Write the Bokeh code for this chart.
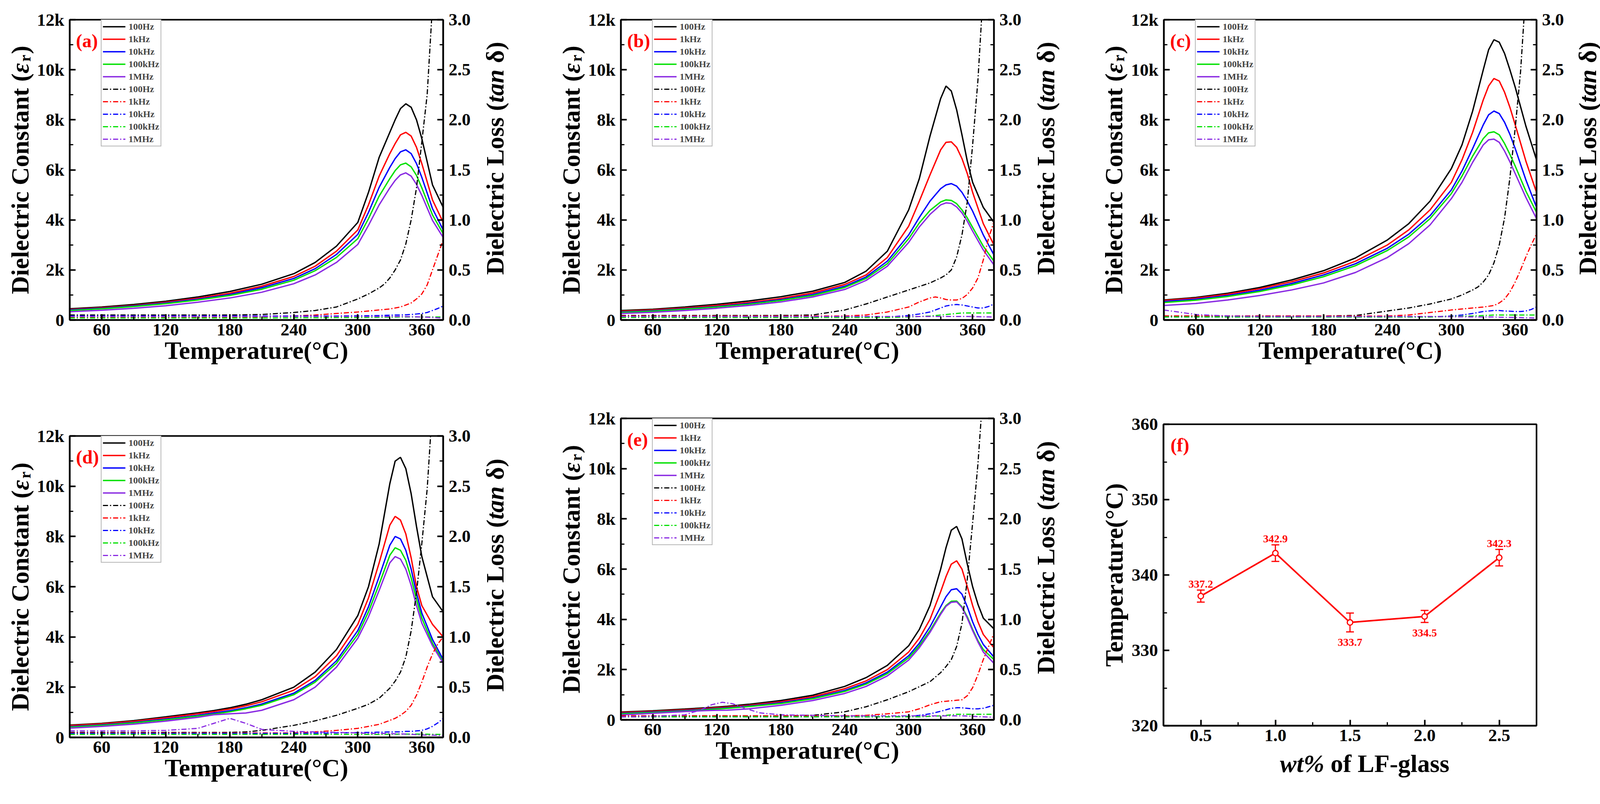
import math
import numpy as np
from bokeh.plotting import figure
from bokeh.models import (Range1d, LinearAxis, FixedTicker, Legend, LegendItem,
                          Label, Whisker, TeeHead, ColumnDataSource)
from bokeh.layouts import row, column
from bokeh.embed import file_html
from bokeh.resources import INLINE

NAN = float("nan")

# ---------------- data ----------------
FREQS = ["100Hz", "1kHz", "10kHz", "100kHz", "1MHz"]
COLORS = ["#000000", "#FF0000", "#0000FF", "#00E000", "#8A2BE2"]
PANEL_TAGS = ["(a)", "(b)", "(c)", "(d)", "(e)", "(f)"]

# dielectric constant in units of 1k, loss tangent as read
A_T = [30, 60, 90, 120, 150, 180, 210, 240, 260, 280, 300, 310, 320, 330, 335, 340, 345, 350, 355, 360, 370, 380]
A_EPS_100HZ = [0.45, 0.52, 0.62, 0.75, 0.92, 1.14, 1.43, 1.85, 2.30, 2.95, 3.90, 5.10, 6.50, 7.50, 8.00, 8.45, 8.64, 8.50, 8.00, 7.25, 5.40, 4.50]
A_EPS_1KHZ = [0.42, 0.49, 0.58, 0.71, 0.87, 1.07, 1.35, 1.74, 2.15, 2.75, 3.60, 4.60, 5.75, 6.65, 7.05, 7.40, 7.50, 7.35, 6.90, 6.25, 4.80, 3.90]
A_EPS_10KHZ = [0.40, 0.47, 0.56, 0.68, 0.83, 1.02, 1.29, 1.66, 2.05, 2.62, 3.42, 4.30, 5.30, 6.10, 6.45, 6.72, 6.80, 6.65, 6.25, 5.70, 4.45, 3.60]
A_EPS_100KHZ = [0.38, 0.45, 0.54, 0.65, 0.80, 0.98, 1.23, 1.59, 1.97, 2.50, 3.25, 4.05, 4.95, 5.65, 5.97, 6.20, 6.27, 6.12, 5.78, 5.28, 4.20, 3.45]
A_EPS_1MHZ = [0.33, 0.39, 0.47, 0.57, 0.71, 0.88, 1.11, 1.45, 1.80, 2.30, 3.02, 3.78, 4.60, 5.28, 5.58, 5.80, 5.88, 5.75, 5.42, 4.98, 3.98, 3.30]
A_TL = [30, 60, 90, 120, 150, 180, 210, 240, 260, 280, 300, 310, 320, 325, 330, 335, 340, 345, 350, 355, 360, 365, 370, 375, 380]
A_TAN_100HZ = [0.05, 0.05, 0.05, 0.05, 0.05, 0.05, 0.055, 0.075, 0.095, 0.13, 0.21, 0.26, 0.32, 0.36, 0.42, 0.50, 0.60, 0.76, 1.00, 1.32, 1.78, 2.25, 3.15, NAN, NAN]
A_TAN_1KHZ = [0.025, 0.025, 0.025, 0.025, 0.025, 0.028, 0.032, 0.04, 0.05, 0.065, 0.08, 0.09, 0.10, 0.105, 0.11, 0.12, 0.13, 0.15, 0.17, 0.21, 0.26, 0.35, 0.50, 0.65, 0.80]
A_TAN_10KHZ = [0.04, 0.04, 0.04, 0.04, 0.04, 0.04, 0.04, 0.04, 0.04, 0.04, 0.042, 0.043, 0.045, 0.047, 0.048, 0.05, 0.05, 0.052, 0.055, 0.06, 0.065, 0.075, 0.095, 0.115, 0.14]
A_TAN_100KHZ = [0.02, 0.02, 0.02, 0.02, 0.02, 0.02, 0.02, 0.022, 0.022, 0.024, 0.025, 0.026, 0.027, 0.028, 0.028, 0.029, 0.03, 0.03, 0.03, 0.03, 0.03, 0.03, 0.03, 0.03, 0.03]
A_TAN_1MHZ = [0.035, 0.035, 0.035, 0.035, 0.035, 0.035, 0.035, 0.035, 0.035, 0.035, 0.035, 0.035, 0.035, 0.035, 0.035, 0.035, 0.035, 0.034, 0.033, 0.032, 0.03, 0.028, 0.025, 0.022, 0.02]

B_T = [30, 60, 90, 120, 150, 180, 210, 240, 260, 280, 300, 310, 320, 330, 335, 340, 345, 350, 355, 360, 370, 380]
B_EPS_100HZ = [0.38, 0.43, 0.52, 0.63, 0.76, 0.93, 1.15, 1.50, 1.95, 2.75, 4.40, 5.65, 7.35, 8.85, 9.35, 9.15, 8.40, 7.40, 6.35, 5.50, 4.50, 3.90]
B_EPS_1KHZ = [0.35, 0.40, 0.48, 0.58, 0.70, 0.86, 1.08, 1.42, 1.80, 2.50, 3.75, 4.75, 5.80, 6.80, 7.10, 7.12, 6.90, 6.45, 5.85, 5.10, 3.85, 3.00]
B_EPS_10KHZ = [0.32, 0.37, 0.45, 0.54, 0.66, 0.81, 1.02, 1.35, 1.72, 2.35, 3.40, 4.10, 4.75, 5.25, 5.40, 5.45, 5.35, 5.10, 4.75, 4.35, 3.40, 2.60]
B_EPS_100KHZ = [0.30, 0.35, 0.43, 0.52, 0.63, 0.78, 0.98, 1.30, 1.66, 2.25, 3.25, 3.88, 4.38, 4.72, 4.80, 4.78, 4.65, 4.40, 4.08, 3.70, 2.95, 2.35]
B_EPS_1MHZ = [0.26, 0.31, 0.38, 0.47, 0.58, 0.72, 0.92, 1.22, 1.58, 2.15, 3.10, 3.72, 4.22, 4.60, 4.68, 4.66, 4.52, 4.28, 3.95, 3.55, 2.80, 2.20]
B_TL = [30, 60, 90, 120, 150, 180, 210, 240, 260, 280, 300, 310, 320, 325, 330, 335, 340, 345, 350, 355, 360, 365, 370, 375, 380]
B_TAN_100HZ = [0.045, 0.045, 0.045, 0.045, 0.045, 0.045, 0.05, 0.10, 0.16, 0.23, 0.30, 0.335, 0.37, 0.395, 0.42, 0.45, 0.50, 0.63, 0.85, 1.18, 1.75, 2.40, 3.30, NAN, NAN]
B_TAN_1KHZ = [0.04, 0.04, 0.04, 0.04, 0.04, 0.04, 0.04, 0.04, 0.05, 0.08, 0.13, 0.18, 0.22, 0.23, 0.22, 0.205, 0.20, 0.20, 0.215, 0.255, 0.32, 0.42, 0.60, 0.82, 0.98]
B_TAN_10KHZ = [0.03, 0.03, 0.03, 0.03, 0.03, 0.03, 0.03, 0.03, 0.03, 0.03, 0.045, 0.06, 0.08, 0.10, 0.12, 0.14, 0.15, 0.155, 0.15, 0.14, 0.13, 0.12, 0.12, 0.135, 0.16]
B_TAN_100KHZ = [0.025, 0.025, 0.025, 0.025, 0.025, 0.025, 0.025, 0.025, 0.025, 0.025, 0.03, 0.035, 0.04, 0.045, 0.05, 0.055, 0.06, 0.065, 0.07, 0.07, 0.07, 0.07, 0.07, 0.07, 0.07]
B_TAN_1MHZ = [0.035, 0.035, 0.035, 0.035, 0.035, 0.035, 0.035, 0.035, 0.035, 0.035, 0.035, 0.035, 0.035, 0.035, 0.035, 0.035, 0.035, 0.035, 0.035, 0.035, 0.034, 0.033, 0.032, 0.031, 0.03]

C_T = [30, 60, 90, 120, 150, 180, 210, 240, 260, 280, 300, 310, 320, 330, 335, 340, 345, 350, 355, 360, 370, 380]
C_EPS_100HZ = [0.80, 0.90, 1.07, 1.30, 1.60, 1.97, 2.48, 3.20, 3.85, 4.75, 6.05, 7.00, 8.35, 10.0, 10.8, 11.2, 11.1, 10.65, 10.0, 9.30, 7.75, 6.40]
C_EPS_1KHZ = [0.78, 0.87, 1.03, 1.25, 1.53, 1.88, 2.35, 3.00, 3.60, 4.40, 5.50, 6.40, 7.50, 8.80, 9.35, 9.65, 9.55, 9.10, 8.50, 7.80, 6.35, 5.10]
C_EPS_10KHZ = [0.74, 0.83, 0.98, 1.19, 1.46, 1.80, 2.25, 2.87, 3.43, 4.17, 5.20, 5.95, 6.85, 7.80, 8.20, 8.35, 8.25, 7.90, 7.42, 6.85, 5.60, 4.50]
C_EPS_100KHZ = [0.70, 0.79, 0.94, 1.14, 1.40, 1.73, 2.17, 2.78, 3.32, 4.05, 5.05, 5.75, 6.55, 7.25, 7.48, 7.52, 7.40, 7.05, 6.62, 6.15, 5.15, 4.30]
C_EPS_1MHZ = [0.58, 0.66, 0.80, 0.98, 1.20, 1.48, 1.90, 2.50, 3.05, 3.80, 4.85, 5.50, 6.30, 7.00, 7.20, 7.23, 7.10, 6.75, 6.32, 5.85, 4.90, 4.05]
C_TL = [30, 60, 90, 120, 150, 180, 210, 240, 260, 280, 300, 310, 320, 325, 330, 335, 340, 345, 350, 355, 360, 365, 370, 375, 380]
C_TAN_100HZ = [0.04, 0.04, 0.04, 0.04, 0.04, 0.04, 0.045, 0.09, 0.12, 0.16, 0.21, 0.25, 0.30, 0.33, 0.38, 0.45, 0.57, 0.75, 1.02, 1.42, 1.92, 2.48, 3.30, NAN, NAN]
C_TAN_1KHZ = [0.04, 0.04, 0.04, 0.04, 0.04, 0.04, 0.04, 0.04, 0.05, 0.075, 0.10, 0.11, 0.12, 0.125, 0.13, 0.137, 0.145, 0.17, 0.21, 0.28, 0.38, 0.50, 0.63, 0.75, 0.86]
C_TAN_10KHZ = [0.03, 0.03, 0.03, 0.03, 0.03, 0.03, 0.03, 0.03, 0.03, 0.03, 0.04, 0.05, 0.065, 0.075, 0.085, 0.09, 0.095, 0.095, 0.09, 0.088, 0.085, 0.085, 0.09, 0.105, 0.13]
C_TAN_100KHZ = [0.03, 0.03, 0.03, 0.03, 0.03, 0.03, 0.03, 0.03, 0.03, 0.03, 0.035, 0.037, 0.04, 0.042, 0.045, 0.047, 0.05, 0.05, 0.05, 0.05, 0.05, 0.05, 0.05, 0.05, 0.05]
C_TAN_1MHZ = [0.10, 0.055, 0.04, 0.035, 0.035, 0.035, 0.035, 0.035, 0.035, 0.035, 0.033, 0.032, 0.03, 0.03, 0.03, 0.03, 0.03, 0.028, 0.027, 0.026, 0.025, 0.024, 0.022, 0.021, 0.02]

D_T = [30, 60, 90, 120, 150, 165, 180, 195, 210, 240, 260, 280, 300, 310, 320, 330, 335, 340, 345, 350, 355, 360, 370, 380]
D_EPS_100HZ = [0.49, 0.56, 0.67, 0.82, 0.98, 1.07, 1.18, 1.32, 1.50, 2.00, 2.60, 3.50, 4.85, 6.00, 7.70, 10.1, 11.0, 11.15, 10.7, 9.70, 8.40, 7.20, 5.60, 5.00]
D_EPS_1KHZ = [0.47, 0.54, 0.64, 0.78, 0.94, 1.03, 1.13, 1.26, 1.42, 1.88, 2.42, 3.25, 4.50, 5.55, 6.95, 8.45, 8.80, 8.65, 8.10, 7.15, 6.00, 5.25, 4.50, 4.00]
D_EPS_10KHZ = [0.43, 0.50, 0.60, 0.73, 0.88, 0.97, 1.06, 1.18, 1.33, 1.76, 2.27, 3.05, 4.25, 5.20, 6.40, 7.65, 8.00, 7.90, 7.45, 6.70, 5.75, 4.95, 3.90, 3.10]
D_EPS_100KHZ = [0.41, 0.48, 0.58, 0.70, 0.85, 0.93, 1.02, 1.14, 1.28, 1.70, 2.20, 2.95, 4.10, 5.00, 6.10, 7.25, 7.55, 7.45, 7.05, 6.35, 5.50, 4.75, 3.75, 3.00]
D_EPS_1MHZ = [0.37, 0.44, 0.53, 0.65, 0.80, 0.90, 0.94, 0.97, 1.08, 1.50, 2.00, 2.80, 3.95, 4.80, 5.85, 6.95, 7.20, 7.10, 6.70, 6.05, 5.25, 4.55, 3.65, 2.95]
D_TL = [30, 60, 90, 120, 150, 165, 180, 195, 210, 240, 260, 280, 300, 310, 320, 330, 335, 340, 345, 350, 355, 360, 365, 370, 375, 380]
D_TAN_100HZ = [0.05, 0.05, 0.05, 0.05, 0.05, 0.05, 0.05, 0.055, 0.07, 0.12, 0.165, 0.22, 0.29, 0.33, 0.39, 0.49, 0.56, 0.65, 0.80, 1.06, 1.44, 1.93, 2.47, 3.30, NAN, NAN]
D_TAN_1KHZ = [0.045, 0.045, 0.045, 0.045, 0.045, 0.045, 0.045, 0.045, 0.045, 0.045, 0.055, 0.07, 0.09, 0.11, 0.13, 0.17, 0.19, 0.22, 0.26, 0.32, 0.42, 0.55, 0.70, 0.83, 0.93, 1.00]
D_TAN_10KHZ = [0.04, 0.04, 0.04, 0.04, 0.04, 0.04, 0.04, 0.04, 0.04, 0.04, 0.042, 0.045, 0.048, 0.05, 0.052, 0.054, 0.055, 0.055, 0.06, 0.06, 0.065, 0.07, 0.085, 0.11, 0.145, 0.19]
D_TAN_100KHZ = [0.03, 0.03, 0.03, 0.03, 0.03, 0.03, 0.03, 0.03, 0.03, 0.03, 0.03, 0.03, 0.03, 0.03, 0.03, 0.032, 0.032, 0.033, 0.033, 0.033, 0.033, 0.033, 0.032, 0.031, 0.03, 0.03]
D_TAN_1MHZ = [0.065, 0.065, 0.065, 0.07, 0.09, 0.14, 0.19, 0.14, 0.08, 0.06, 0.055, 0.05, 0.045, 0.04, 0.04, 0.038, 0.036, 0.035, 0.033, 0.03, 0.028, 0.025, 0.023, 0.022, 0.021, 0.02]

E_T = [30, 60, 90, 110, 120, 130, 150, 180, 210, 240, 260, 280, 300, 310, 320, 330, 335, 340, 345, 350, 355, 360, 365, 370, 380]
E_EPS_100HZ = [0.31, 0.36, 0.43, 0.48, 0.51, 0.54, 0.62, 0.77, 0.98, 1.33, 1.68, 2.17, 2.95, 3.60, 4.55, 6.00, 6.85, 7.55, 7.70, 7.20, 6.20, 5.30, 4.60, 4.05, 3.62]
E_EPS_1KHZ = [0.29, 0.34, 0.40, 0.45, 0.48, 0.51, 0.58, 0.72, 0.92, 1.24, 1.55, 2.00, 2.70, 3.25, 4.00, 5.10, 5.70, 6.20, 6.33, 6.00, 5.30, 4.55, 3.90, 3.40, 2.87]
E_EPS_10KHZ = [0.26, 0.31, 0.37, 0.42, 0.45, 0.48, 0.55, 0.68, 0.87, 1.17, 1.47, 1.90, 2.55, 3.05, 3.70, 4.50, 4.90, 5.18, 5.22, 5.00, 4.50, 3.90, 3.40, 3.00, 2.50]
E_EPS_100KHZ = [0.24, 0.29, 0.35, 0.40, 0.43, 0.46, 0.53, 0.65, 0.84, 1.13, 1.42, 1.84, 2.47, 2.95, 3.55, 4.25, 4.55, 4.72, 4.73, 4.50, 4.10, 3.60, 3.15, 2.80, 2.40]
E_EPS_1MHZ = [0.20, 0.26, 0.33, 0.37, 0.38, 0.385, 0.44, 0.58, 0.77, 1.05, 1.33, 1.75, 2.38, 2.87, 3.48, 4.20, 4.52, 4.68, 4.70, 4.47, 4.05, 3.55, 3.10, 2.70, 2.25]
E_TL = [30, 60, 90, 105, 115, 125, 135, 145, 160, 180, 210, 240, 260, 280, 300, 310, 320, 330, 335, 340, 345, 350, 355, 360, 365, 370, 375, 380]
E_TAN_100HZ = [0.04, 0.04, 0.04, 0.04, 0.04, 0.04, 0.04, 0.04, 0.04, 0.04, 0.045, 0.08, 0.13, 0.20, 0.28, 0.33, 0.38, 0.47, 0.53, 0.60, 0.73, 0.96, 1.40, 1.96, 2.55, 3.30, NAN, NAN]
E_TAN_1KHZ = [0.04, 0.04, 0.04, 0.04, 0.04, 0.04, 0.04, 0.04, 0.04, 0.04, 0.04, 0.04, 0.045, 0.06, 0.08, 0.11, 0.15, 0.18, 0.185, 0.19, 0.195, 0.20, 0.24, 0.32, 0.45, 0.60, 0.73, 0.86]
E_TAN_10KHZ = [0.03, 0.03, 0.03, 0.03, 0.03, 0.03, 0.03, 0.03, 0.03, 0.03, 0.03, 0.03, 0.03, 0.03, 0.035, 0.045, 0.06, 0.085, 0.10, 0.115, 0.12, 0.12, 0.115, 0.11, 0.11, 0.115, 0.13, 0.145]
E_TAN_100KHZ = [0.03, 0.03, 0.03, 0.03, 0.03, 0.03, 0.03, 0.03, 0.03, 0.03, 0.03, 0.03, 0.03, 0.03, 0.03, 0.03, 0.035, 0.04, 0.045, 0.05, 0.055, 0.055, 0.055, 0.055, 0.055, 0.055, 0.055, 0.055]
E_TAN_1MHZ = [0.03, 0.035, 0.05, 0.10, 0.15, 0.175, 0.16, 0.12, 0.07, 0.05, 0.045, 0.04, 0.04, 0.04, 0.04, 0.04, 0.04, 0.04, 0.04, 0.04, 0.04, 0.04, 0.038, 0.035, 0.032, 0.03, 0.028, 0.025]

F_WT = [0.5, 1.0, 1.5, 2.0, 2.5]
F_TC = [337.2, 342.9, 333.7, 334.5, 342.3]
F_ERR = [0.8, 1.1, 1.25, 0.8, 1.1]
F_LABEL_SIDE = ["above", "above", "below", "below", "above"]

# ---------------- styling / layout ----------------
FONT = "Liberation Serif"
LBL = 64
TICK_FS = "45px"
DASHDOT = "13 5 3 5"
ROW_H = (1022, 1015)

# main figures: (width, height, border_left, border_right, border_top, border_bottom)
GEOM = {
    "a": (1132, 1022, 88, 88, 50, 203),
    "d": (1132, 1015, 88, 88, 94, 149),
    "b": (1126, 1022, 91, 80, 50, 203),
    "e": (1126, 1015, 91, 80, 49, 194),
    "c": (1115, 1022, 86, 74, 50, 203),
    "f": (1115, 898, 86, 74, 64, 62),
}
F_XTITLE_H = 117
# side strips holding the rotated axis titles: (width, baseline x inside strip)
LEFT_STRIP = {"a": (90, 51), "d": (90, 51), "b": (114, 78), "e": (114, 78),
              "c": (156, 115), "f": (156, 116)}
RIGHT_STRIP = {"a": (162, 45), "d": (162, 45), "b": (112, 53), "e": (112, 53),
               "c": (112, 57), "f": (112, 0)}


def style_axis(ax, ticks, minor, overrides):
    ax.ticker = FixedTicker(ticks=ticks, minor_ticks=minor)
    ax.major_label_overrides = overrides
    ax.major_label_text_font = FONT
    ax.major_label_text_font_style = "bold"
    ax.major_label_text_font_size = TICK_FS
    ax.major_label_text_color = "black"
    ax.axis_line_width = 4
    ax.axis_line_color = "black"
    ax.major_tick_in = 15
    ax.major_tick_out = 0
    ax.minor_tick_in = 9
    ax.minor_tick_out = 0
    ax.major_tick_line_width = 4
    ax.minor_tick_line_width = 3
    ax.major_tick_line_color = "black"
    ax.minor_tick_line_color = "black"
    ax.axis_label_text_font = FONT
    ax.axis_label_text_font_style = "bold"
    ax.axis_label_text_font_size = f"{LBL}px"
    ax.axis_label_text_color = "black"


def make_fig(key, xr, yr):
    w, h, bl, br, bt, bb = GEOM[key]
    p = figure(width=w, height=h, x_range=Range1d(*xr), y_range=Range1d(*yr),
               output_backend="svg", toolbar_location=None, title=None,
               min_border_left=bl, min_border_right=br,
               min_border_top=bt, min_border_bottom=bb, margin=0)
    p.xgrid.visible = False
    p.ygrid.visible = False
    p.outline_line_color = "black"
    p.outline_line_width = 4
    p.outline_line_alpha = 1
    p.background_fill_color = "white"
    p.border_fill_color = "white"
    return p, w - bl - br, h - bt - bb


def strip_fig(width, height, bl=0, br=0):
    fw = width - bl - br
    s = figure(width=width, height=height, x_range=Range1d(0, fw), y_range=Range1d(0, height),
               output_backend="svg", toolbar_location=None, title=None,
               x_axis_type=None, y_axis_type=None, min_border=0,
               min_border_left=bl, min_border_right=br, margin=0)
    s.outline_line_color = None
    s.background_fill_color = "white"
    s.border_fill_color = "white"
    return s


def text_label(s, x, y, text, size=LBL, style="bold", angle=0.0, align="left"):
    s.add_layout(Label(x=x, y=y, text=text, angle=angle, text_align=align,
                       text_baseline="alphabetic", text_font=FONT,
                       text_font_style=style, text_font_size=f"{size}px",
                       text_color="black"))


def vertical_title(s, xb, yc, pieces):
    total = sum(pc[3] for pc in pieces)
    cur = yc - total / 2.0
    for text, style, size, width, shift in pieces:
        text_label(s, xb + shift, cur, text, size=size, style=style, angle=math.pi / 2)
        cur += width


def add_tag(p, fw, fh, xr, yr, tag, dx_px, dy_px):
    x = xr[0] + dx_px * (xr[1] - xr[0]) / fw
    y = yr[1] - dy_px * (yr[1] - yr[0]) / fh
    p.add_layout(Label(x=x, y=y, text=tag, text_font=FONT, text_font_style="bold",
                       text_font_size="48px", text_color="#FF0000",
                       text_align="left", text_baseline="middle"))


def side_strips(key, row_idx, right=True, left_text=None):
    w, h, bl, br, bt, bb = GEOM[key]
    fh = 772 if key == "f" else h - bt - bb
    H = ROW_H[row_idx]
    yc = H - bt - fh / 2.0
    lw, lx = LEFT_STRIP[key]
    left = strip_fig(lw, H)
    if left_text is None:
        vertical_title(left, lx, yc, [
            ("Dielectric Constant (", "bold", LBL, 8.831 * LBL, 0),
            ("ε", "bold italic", LBL, 0.47 * LBL, 0),
            ("r", "bold", 40, 0.444 * 40 + 2, 13),
            (")", "bold", LBL, 0.333 * LBL, 0),
        ])
    else:
        text_label(left, lx, yc, left_text, angle=math.pi / 2, align="center")
    rw, rx = RIGHT_STRIP[key]
    rs = strip_fig(rw, H)
    if right:
        vertical_title(rs, rx, yc + 29, [
            ("Dielectric Loss (", "bold", LBL, 6.887 * LBL, 0),
            ("tan", "bold italic", LBL, (1.334 + 0.25) * LBL, 0),
            ("δ)", "bold", LBL, 0.833 * LBL, 0),
        ])
    return left, rs


def dielectric_panel(key, row_idx, tag, t_eps, eps_series, t_tan, tan_series):
    xr, yr = (30, 380), (0, 12)
    p, fw, fh = make_fig(key, xr, yr)
    p.extra_y_ranges = {"tan": Range1d(0, 3)}

    style_axis(p.xaxis[0], [60, 120, 180, 240, 300, 360], [90, 150, 210, 270, 330],
               {60: "60", 120: "120", 180: "180", 240: "240", 300: "300", 360: "360"})
    style_axis(p.yaxis[0], [0, 2, 4, 6, 8, 10, 12], [1, 3, 5, 7, 9, 11],
               {0: "0", 2: "2k", 4: "4k", 6: "6k", 8: "8k", 10: "10k", 12: "12k"})
    p.xaxis[0].major_label_standoff = 10
    p.xaxis[0].axis_label = "Temperature(°C)"
    p.xaxis[0].axis_label_standoff = 0
    p.yaxis[0].major_label_standoff = 14

    ax_r = LinearAxis(y_range_name="tan")
    style_axis(ax_r, [0, 0.5, 1.0, 1.5, 2.0, 2.5, 3.0],
               [0.25, 0.75, 1.25, 1.75, 2.25, 2.75],
               {0: "0.0", 0.5: "0.5", 1: "1.0", 1.5: "1.5", 2: "2.0", 2.5: "2.5", 3: "3.0"})
    ax_r.major_label_standoff = 14
    p.add_layout(ax_r, "right")

    solid, dashed = [], []
    for vals, col in zip(eps_series, COLORS):
        solid.append(p.line(np.array(t_eps, float), np.array(vals, float),
                            line_color=col, line_width=3.5))
    for vals, col in zip(tan_series, COLORS):
        dashed.append(p.line(np.array(t_tan, float), np.array(vals, float),
                             line_color=col, line_width=3, line_dash=DASHDOT,
                             y_range_name="tan"))

    items = [LegendItem(label=f, renderers=[r]) for f, r in zip(FREQS, solid)]
    items += [LegendItem(label=f, renderers=[r]) for f, r in zip(FREQS, dashed)]
    leg_h = 2 * 3 + 10 * 28 + 9 * 4
    leg = Legend(items=items, location=(80, fh - 3 - leg_h),
                 label_text_font=FONT, label_text_font_style="bold",
                 label_text_font_size="24px", glyph_width=58, glyph_height=28,
                 label_height=28, spacing=4, padding=3, margin=0, label_standoff=8,
                 border_line_color="#707070", border_line_width=2,
                 background_fill_color="white", background_fill_alpha=1.0)
    p.add_layout(leg)
    add_tag(p, fw, fh, xr, yr, tag, 16, 54)
    left, right = side_strips(key, row_idx)
    return left, p, right


def tc_panel(key, row_idx, tag):
    xr, yr = (0.25, 2.75), (320, 360)
    p, fw, fh = make_fig(key, xr, yr)
    style_axis(p.xaxis[0], [0.5, 1.0, 1.5, 2.0, 2.5], [0.75, 1.25, 1.75, 2.25],
               {0.5: "0.5", 1: "1.0", 1.5: "1.5", 2: "2.0", 2.5: "2.5"})
    style_axis(p.yaxis[0], [320, 330, 340, 350, 360], [325, 335, 345, 355],
               {320: "320", 330: "330", 340: "340", 350: "350", 360: "360"})
    p.xaxis[0].major_label_standoff = 10
    p.yaxis[0].major_label_standoff = 14

    up = [v + e for v, e in zip(F_TC, F_ERR)]
    lo = [v - e for v, e in zip(F_TC, F_ERR)]
    src = ColumnDataSource(dict(x=F_WT, y=F_TC, upper=up, lower=lo))
    p.line("x", "y", source=src, line_color="#FF0000", line_width=4)
    wh = Whisker(source=src, base="x", upper="upper", lower="lower",
                 line_color="#FF0000", line_width=3,
                 upper_head=TeeHead(size=20, line_color="#FF0000", line_width=3),
                 lower_head=TeeHead(size=20, line_color="#FF0000", line_width=3))
    p.add_layout(wh)
    p.scatter("x", "y", source=src, marker="circle", size=14, fill_color="white",
              line_color="#FF0000", line_width=3)

    for x, v, u, l, side in zip(F_WT, F_TC, up, lo, F_LABEL_SIDE):
        if side == "above":
            lab = Label(x=x, y=u, y_offset=15, text=f"{v:.1f}")
        else:
            lab = Label(x=x, y=l, y_offset=-27, text=f"{v:.1f}")
        lab.text_font = FONT
        lab.text_font_style = "bold"
        lab.text_font_size = "28px"
        lab.text_color = "#FF0000"
        lab.text_align = "center"
        lab.text_baseline = "middle"
        p.add_layout(lab)

    add_tag(p, fw, fh, xr, yr, tag, 18, 53)

    # x-axis title strip below the panel: "wt%" italic + "of LF-glass"
    w, h, bl, br, bt, bb = GEOM[key]
    xs = strip_fig(w, F_XTITLE_H, bl=bl, br=br)
    yb = F_XTITLE_H - (109 - bb) + 12
    text_label(xs, 298, yb, "wt%", style="bold italic")
    text_label(xs, 298 + (1.778 + 0.25) * LBL, yb, "of LF-glass")

    left, right = side_strips(key, row_idx, right=False, left_text="Temperature(°C)")
    return left, column(p, xs, spacing=0), right


la, pa, ra = dielectric_panel("a", 0, PANEL_TAGS[0], A_T,
                              [A_EPS_100HZ, A_EPS_1KHZ, A_EPS_10KHZ, A_EPS_100KHZ, A_EPS_1MHZ], A_TL,
                              [A_TAN_100HZ, A_TAN_1KHZ, A_TAN_10KHZ, A_TAN_100KHZ, A_TAN_1MHZ])
lb, pb, rb = dielectric_panel("b", 0, PANEL_TAGS[1], B_T,
                              [B_EPS_100HZ, B_EPS_1KHZ, B_EPS_10KHZ, B_EPS_100KHZ, B_EPS_1MHZ], B_TL,
                              [B_TAN_100HZ, B_TAN_1KHZ, B_TAN_10KHZ, B_TAN_100KHZ, B_TAN_1MHZ])
lc, pc, rc = dielectric_panel("c", 0, PANEL_TAGS[2], C_T,
                              [C_EPS_100HZ, C_EPS_1KHZ, C_EPS_10KHZ, C_EPS_100KHZ, C_EPS_1MHZ], C_TL,
                              [C_TAN_100HZ, C_TAN_1KHZ, C_TAN_10KHZ, C_TAN_100KHZ, C_TAN_1MHZ])
ld, pd_, rd = dielectric_panel("d", 1, PANEL_TAGS[3], D_T,
                               [D_EPS_100HZ, D_EPS_1KHZ, D_EPS_10KHZ, D_EPS_100KHZ, D_EPS_1MHZ], D_TL,
                               [D_TAN_100HZ, D_TAN_1KHZ, D_TAN_10KHZ, D_TAN_100KHZ, D_TAN_1MHZ])
le, pe, re_ = dielectric_panel("e", 1, PANEL_TAGS[4], E_T,
                               [E_EPS_100HZ, E_EPS_1KHZ, E_EPS_10KHZ, E_EPS_100KHZ, E_EPS_1MHZ], E_TL,
                               [E_TAN_100HZ, E_TAN_1KHZ, E_TAN_10KHZ, E_TAN_100KHZ, E_TAN_1MHZ])
lf, pf, rf = tc_panel("f", 1, PANEL_TAGS[5])


def col(*items):
    return column(*items, spacing=0, margin=0)


layout = row(col(la, ld), col(pa, pd_), col(ra, rd),
             col(lb, le), col(pb, pe), col(rb, re_),
             col(lc, lf), col(pc, pf), col(rc, rf), spacing=0, margin=0)
open("out.html", "w").write(file_html(layout, INLINE, "Dielectric properties"))
